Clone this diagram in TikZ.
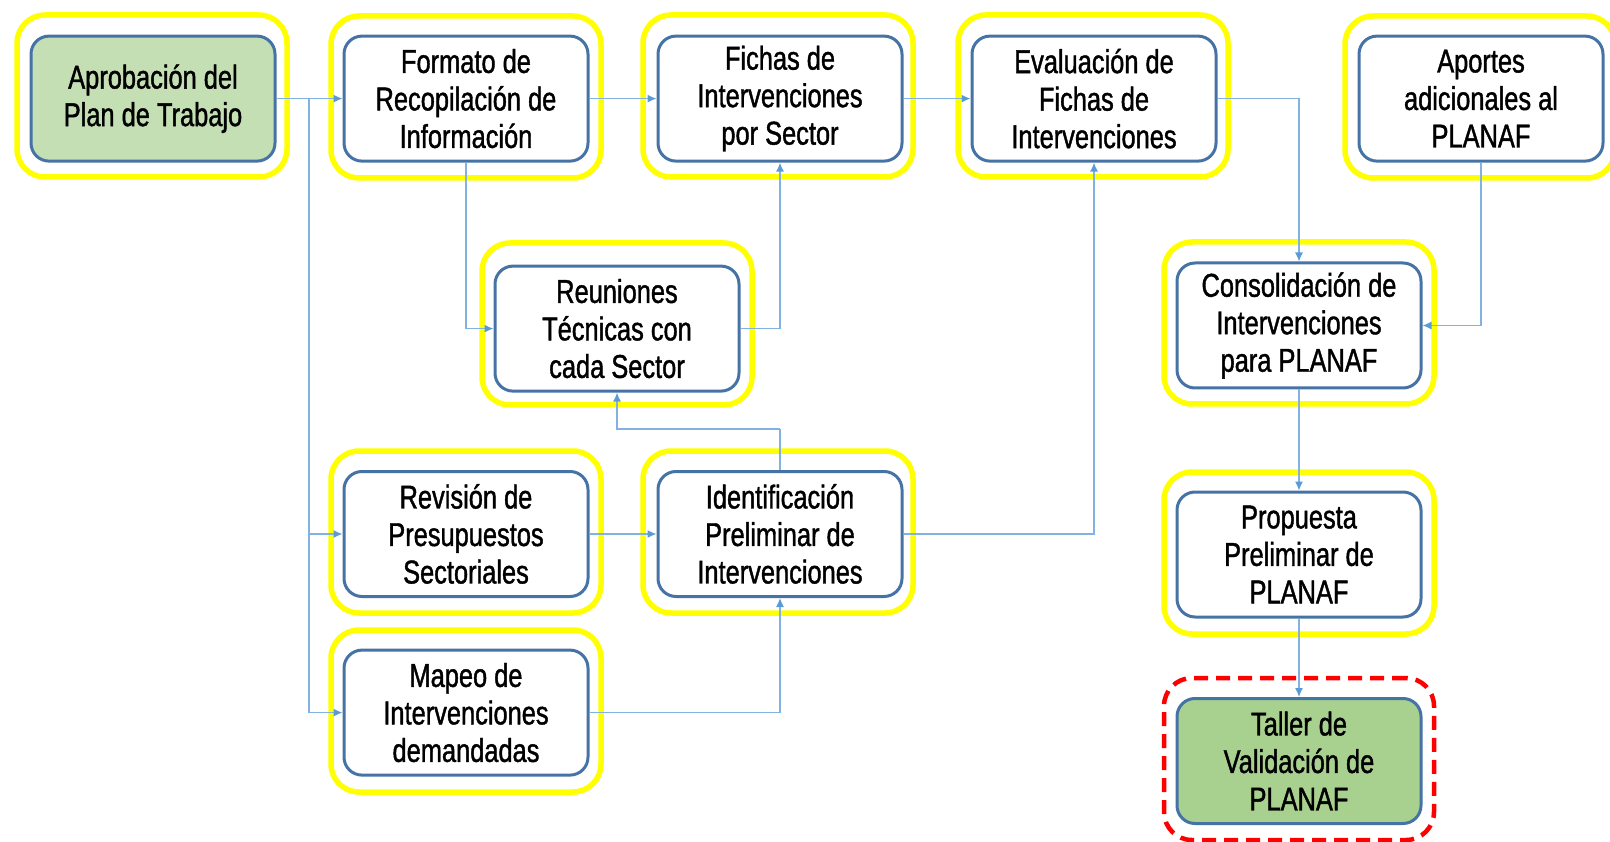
\documentclass[tikz,border=0pt]{standalone}
\usepackage{fontspec}
\setmainfont{Liberation Sans}[FakeStretch=0.77,FakeBold=1.2]
\usetikzlibrary{arrows.meta}
\definecolor{boxline}{RGB}{70,115,165}
\definecolor{conncol}{RGB}{130,178,225}
\definecolor{tipcol}{RGB}{91,155,213}
\definecolor{greenA}{RGB}{196,223,180}
\definecolor{greenB}{RGB}{168,208,142}
\definecolor{yel}{RGB}{255,255,0}
\tikzset{
  stepbox/.style={draw=boxline, line width=3pt, rounded corners=18pt, fill=white,
    minimum width=244pt, minimum height=125pt, inner sep=0pt, align=center,
    font=\fontsize{33}{37.5}\selectfont},
  yframe/.style={draw=yel, line width=5.5pt, rounded corners=28pt,
    minimum width=270pt, minimum height=162pt, inner sep=0pt},
  rframe/.style={draw=red, line width=4.5pt, rounded corners=28pt, dash pattern=on 14pt off 8pt,
    minimum width=270pt, minimum height=162pt, inner sep=0pt},
  conn/.style={draw=conncol, line width=1.3pt, -{Latex[length=9pt,width=8pt,color=tipcol]}},
  plain/.style={draw=conncol, line width=1.3pt}
}
\begin{document}
\begin{tikzpicture}[x=1pt,y=-1pt]
\useasboundingbox (0,0) rectangle (1610,842);
\clip (0,0) rectangle (1610,842);
% yellow / red frames
\node[yframe] (yapr) at (152,96) {};
\node[yframe] (yfor) at (466,97) {};
\node[yframe] (yfic) at (778,96) {};
\node[yframe] (yeva) at (1093,96) {};
\node[yframe] (yapo) at (1480,97) {};
\node[yframe] (yreu) at (617,324) {};
\node[yframe] (ycon) at (1299,323) {};
\node[yframe] (yrev) at (466,532) {};
\node[yframe] (yide) at (778,532) {};
\node[yframe] (ymap) at (466,711) {};
\node[yframe] (ypro) at (1299,553) {};
\node[rframe] (rtal) at (1299,759) {};
% boxes
\node[stepbox, fill=greenA] (apr) at (153,98.6) {Aprobación del\\Plan de Trabajo};
\node[stepbox] (for) at (466,98.6) {Formato de\\Recopilación de\\Información};
\node[stepbox] (fic) at (780,98.6) {Fichas de\\Intervenciones\\por Sector};
\node[stepbox] (eva) at (1094,98.6) {Evaluación de\\Fichas de\\Intervenciones};
\node[stepbox] (apo) at (1481,98.6) {Aportes\\adicionales al\\PLANAF};
\node[stepbox] (reu) at (617,328.6) {Reuniones\\Técnicas con\\cada Sector};
\node[stepbox] (con) at (1299,325.5) {Consolidación de\\Intervenciones\\para PLANAF};
\node[stepbox] (rev) at (466,534) {Revisión de\\Presupuestos\\Sectoriales};
\node[stepbox] (ide) at (780,534) {Identificación\\Preliminar de\\Intervenciones};
\node[stepbox] (map) at (466,712.6) {Mapeo de\\Intervenciones\\demandadas};
\node[stepbox] (pro) at (1299,554.5) {Propuesta\\Preliminar de\\PLANAF};
\node[stepbox, fill=greenB] (tal) at (1299,761) {Taller de\\Validación de\\PLANAF};
% connector helpers
\coordinate (br) at (309,98.6);
\coordinate (k1) at (780,429);
% connectors
\draw[conn] (apr.east) -- (for.west);
\draw[conn] (br) |- (rev.west);
\draw[conn] (br) |- (map.west);
\draw[conn] (for.east) -- (fic.west);
\draw[conn] (fic.east) -- (eva.west);
\draw[conn] (eva.east) -| (con.north);
\draw[conn] (for.south) |- (reu.west);
\draw[conn] (reu.east) -| (fic.south);
\draw[plain] (ide.north) -- (k1);
\draw[conn] (k1) -| (reu.south);
\draw[conn] (rev.east) -- (ide.west);
\draw[conn] (map.east) -| (ide.south);
\draw[conn] (ide.east) -| (eva.south);
\draw[conn] (apo.south) |- (con.east);
\draw[conn] (con.south) -- (pro.north);
\draw[conn] (pro.south) -- (tal.north);
\end{tikzpicture}
\end{document}
